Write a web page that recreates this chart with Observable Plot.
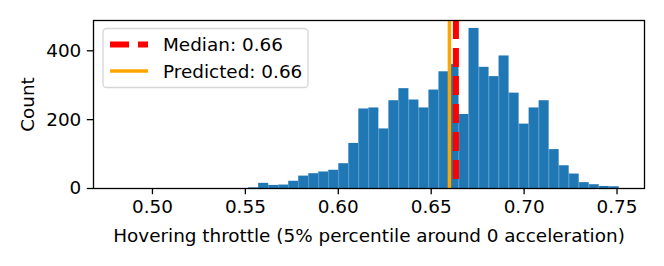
<!DOCTYPE html>
<html>
<head>
<meta charset="utf-8">
<script src="https://cdn.jsdelivr.net/npm/d3@7"></script>
<script src="https://cdn.jsdelivr.net/npm/@observablehq/plot@0.6"></script>
<style>
  html, body { margin: 0; padding: 0; background: #fff; }
  #chart { width: 664px; height: 266px; }
  svg { font-family: "DejaVu Sans", sans-serif; }
</style>
</head>
<body>
<div id="chart"></div>
<script>
// Histogram definition (50 equal bins between data min and max)
const dataMin = 0.4817;
const dataMax = 0.7512;
const binCount = 50;
const counts = [
  0, 0, 0, 0, 0, 0, 0, 0, 0, 0,
  0, 0, 0, 2, 15, 9, 10, 21, 36, 43,
  48, 53, 72, 131, 231, 234, 173, 255, 290, 257,
  234, 286, 339, 360, 215, 465, 352, 325, 385, 277,
  187, 234, 255, 113, 66, 42, 17, 11, 6, 5
];
const medianValue = 0.6633;
const predictedValue = 0.6598;
const medianLabel = "Median: 0.66";
const predictedLabel = "Predicted: 0.66";
const xTicks = [0.50, 0.55, 0.60, 0.65, 0.70, 0.75];
const yTicks = [0, 200, 400];
const xLabel = "Hovering throttle (5% percentile around 0 acceleration)";
const yLabel = "Count";

const binW = (dataMax - dataMin) / binCount;
const bins = counts.map((c, i) => ({x1: dataMin + i * binW, x2: dataMin + (i + 1) * binW, count: c}));

const fs = 18.4;
const chart = Plot.plot({
  width: 664,
  height: 266,
  marginLeft: 93,
  marginRight: 20,
  marginTop: 20,
  marginBottom: 78,
  style: {fontFamily: "DejaVu Sans, sans-serif", fontSize: fs + "px", color: "#000", background: "#fff"},
  x: {domain: [0.46828, 0.76478], label: null},
  y: {domain: [0, 488], label: null},
  marks: [
    Plot.rectY(bins, {x1: "x1", x2: "x2", y: "count", fill: "#1f77b4", inset: 0}),
    Plot.ruleX(bins.slice(1), {x: "x1", y1: 0, y2: (d, i) => Math.min(d.count, bins[i].count), stroke: "#5b9bd0", strokeWidth: 0.6}),
    Plot.ruleX([predictedValue], {stroke: "orange", strokeWidth: 3.5}),
    Plot.ruleX([medianValue], {stroke: "red", strokeWidth: 6, strokeDasharray: "19,9"}),
    Plot.frame({stroke: "#000", strokeWidth: 1.3}),
    Plot.axisX({ticks: xTicks, tickFormat: d3.format(".2f"), tickSize: 6.2, tickPadding: 5, strokeWidth: 1.3, fontSize: fs, label: null}),
    Plot.axisY({ticks: yTicks, tickSize: 6.2, tickPadding: 6, strokeWidth: 1.3, fontSize: fs, label: null}),
    Plot.text([xLabel], {frameAnchor: "bottom", dy: 53, fontSize: fs, textAnchor: "middle", lineAnchor: "bottom"}),
    Plot.text([yLabel], {frameAnchor: "left", dx: -65, rotate: -90, fontSize: fs, textAnchor: "middle"})
  ]
});
document.getElementById("chart").appendChild(chart);

// Legend box (upper left)
const svg = d3.select(chart);
const lg = svg.append("g").attr("class", "legend").attr("text-anchor", "start");
lg.append("rect")
  .attr("x", 103).attr("y", 28.5).attr("width", 205).attr("height", 59)
  .attr("rx", 3.5).attr("ry", 3.5)
  .attr("fill", "#fff").attr("fill-opacity", 0.8)
  .attr("stroke", "#d6d6d6").attr("stroke-width", 1.3);
lg.append("line")
  .attr("x1", 110).attr("x2", 148).attr("y1", 44.5).attr("y2", 44.5)
  .attr("stroke", "red").attr("stroke-width", 6).attr("stroke-dasharray", "19,9");
lg.append("line")
  .attr("x1", 110).attr("x2", 148).attr("y1", 71).attr("y2", 71)
  .attr("stroke", "orange").attr("stroke-width", 3.5);
lg.append("text").attr("x", 163).attr("y", 51).attr("font-size", fs).attr("fill", "#000").attr("text-anchor", "start").text(medianLabel);
lg.append("text").attr("x", 163).attr("y", 77.5).attr("font-size", fs).attr("fill", "#000").attr("text-anchor", "start").text(predictedLabel);
</script>
</body>
</html>
